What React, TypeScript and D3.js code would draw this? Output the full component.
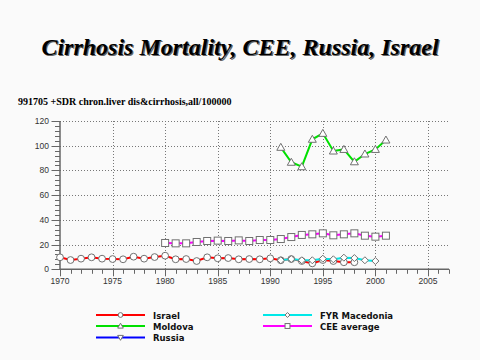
import React from "react";
import * as d3 from "d3";

const israelYears = [1970,1971,1972,1973,1974,1975,1976,1977,1978,1979,1980,1981,1982,1983,1984,1985,1986,1987,1988,1989,1990,1991,1992,1993,1994,1995,1996,1997,1998];
const israelValues = [9.7,7.5,8.6,9.7,8.6,8.3,8.1,10.2,8.6,9.9,11,8.1,8.3,6.7,9.7,8.9,9.1,8.1,8.3,8.1,8.9,7.3,8.3,6.7,4.8,7.5,6.7,5.7,5.7];
const moldovaYears = [1991,1992,1993,1994,1995,1996,1997,1998,1999,2000,2001];
const moldovaValues = [98.7,86.6,83,105.2,110,95.7,97,87,93.3,97,104.6];
const russiaYears: number[] = [];
const russiaValues: number[] = [];
const macedoniaYears = [1991,1992,1993,1994,1995,1996,1997,1998,1999,2000];
const macedoniaValues = [7.3,8.3,7.3,7.3,8.6,8.1,9.4,9.1,7.3,6.7];
const ceeYears = [1980,1981,1982,1983,1984,1985,1986,1987,1988,1989,1990,1991,1992,1993,1994,1995,1996,1997,1998,1999,2000,2001];
const ceeValues = [21.3,21,21,22.1,22.9,23.2,22.9,23.4,22.9,23.7,23.7,24.5,26.1,27.8,28.3,29.1,27.5,28.3,29.1,27.2,26.4,27.2];

const xTicks = [1970,1975,1980,1985,1990,1995,2000,2005];
const yTicks = [0,20,40,60,80,100,120];

type Series = { name: string; years: number[]; values: number[]; color: string; marker: string };
const series: Series[] = [
  { name: "Israel", years: israelYears, values: israelValues, color: "#ff0000", marker: "circle" },
  { name: "Moldova", years: moldovaYears, values: moldovaValues, color: "#00e000", marker: "triangle" },
  { name: "Russia", years: russiaYears, values: russiaValues, color: "#0000ff", marker: "triangleDown" },
  { name: "FYR Macedonia", years: macedoniaYears, values: macedoniaValues, color: "#00e8e8", marker: "diamond" },
  { name: "CEE average", years: ceeYears, values: ceeValues, color: "#ff00ff", marker: "square" },
];

function Marker({ type, x, y, k = 1 }: { type: string; x: number; y: number; k?: number }) {
  const st = { fill: "#fff", stroke: "#707070", strokeWidth: 1 };
  if (type === "circle") return <circle cx={x} cy={y} r={3.4 * k} {...st} />;
  if (type === "square") return <rect x={x - 3.5 * k} y={y - 3.5 * k} width={7 * k} height={7 * k} {...st} />;
  if (type === "triangle") return <path d={`M${x},${y - 4 * k}L${x + 4 * k},${y + 3 * k}L${x - 4 * k},${y + 3 * k}Z`} {...st} />;
  if (type === "triangleDown") return <path d={`M${x},${y + 4 * k}L${x + 4 * k},${y - 3 * k}L${x - 4 * k},${y - 3 * k}Z`} {...st} />;
  return <path d={`M${x},${y - 3.5 * k}L${x + 3.5 * k},${y}L${x},${y + 3.5 * k}L${x - 3.5 * k},${y}Z`} {...st} />;
}

export default function App() {
  const x = d3.scaleLinear().domain([1970, 2007]).range([60, 449]);
  const y = d3.scaleLinear().domain([0, 120]).range([269.3, 121]);
  const line = d3.line<[number, number]>().x(d => x(d[0])).y(d => y(d[1]));
  const minorX = d3.range(1970, 2008, 1);
  const minorY = d3.range(0, 121, 4);
  const axisColor = "#666";
  const legendPos = [
    { lx: 96, ly: 315 }, { lx: 96, ly: 326 }, { lx: 96, ly: 337.5 },
    { lx: 263, ly: 315 }, { lx: 263, ly: 326 },
  ];
  const title = "Cirrhosis Mortality, CEE, Russia, Israel";
  const serifFont = "'Liberation Serif', serif";
  return (
    <svg width={480} height={360} style={{ position: "absolute", left: 0, top: 0 }}>
      <rect x={0} y={0} width={480} height={360} fill="#fafafa" />
      <g style={{ fontFamily: serifFont, fontWeight: "bold", fontStyle: "italic", fontSize: "24px" }} textAnchor="middle">
        <text x={241.2} y={56.2} fill="#666">{title}</text>
        <text x={240} y={55} fill="#000">{title}</text>
      </g>
      <text x={18} y={105} style={{ fontFamily: serifFont, fontWeight: "bold", fontSize: "10px" }} fill="#000">991705 +SDR chron.liver dis&amp;cirrhosis,all/100000</text>
      {/* grid */}
      <g stroke="#777" strokeWidth={1} strokeDasharray="1,2">
        {yTicks.filter(t => t > 0).map(t => (
          <line key={"gy" + t} x1={60} x2={449} y1={Math.round(y(t)) + 0.5} y2={Math.round(y(t)) + 0.5} />
        ))}
        {xTicks.filter(t => t > 1970).map(t => (
          <line key={"gx" + t} x1={Math.round(x(t)) + 0.5} x2={Math.round(x(t)) + 0.5} y1={y(120)} y2={y(0)} />
        ))}
      </g>
      {/* axes */}
      <g stroke={axisColor} strokeWidth={1}>
        <line x1={60} x2={60} y1={y(120)} y2={y(0)} strokeWidth={1.5} />
        <line x1={60} x2={449} y1={y(0)} y2={y(0)} strokeWidth={1.5} />
        {minorY.map(t => (
          <line key={"my" + t} x1={t % 20 === 0 ? 51.5 : 55} x2={60} y1={Math.round(y(t)) + 0.5} y2={Math.round(y(t)) + 0.5} />
        ))}
        {minorX.map(t => (
          <line key={"mx" + t} x1={Math.round(x(t)) + 0.5} x2={Math.round(x(t)) + 0.5} y1={y(0)} y2={y(0) + (t % 5 === 0 ? 7 : 4.5)} />
        ))}
      </g>
      <g fontFamily="'Liberation Sans', Arial, sans-serif" fontSize={8.5} fill="#333">
        {yTicks.map(t => (
          <text key={"ly" + t} x={49} y={y(t) + 3} textAnchor="end">{t}</text>
        ))}
        {xTicks.map(t => (
          <text key={"lx" + t} x={x(t)} y={284} textAnchor="middle">{t}</text>
        ))}
      </g>
      {/* series */}
      {series.map(s => {
        const pts: [number, number][] = s.years.map((yr, i) => [yr, s.values[i]]);
        return (
          <g key={s.name}>
            {pts.length > 0 && <path d={line(pts) || ""} fill="none" stroke={s.color} strokeWidth={2} />}
            {pts.map((p, i) => <Marker key={i} type={s.marker} x={x(p[0])} y={y(p[1])} />)}
          </g>
        );
      })}
      {/* legend */}
      {series.map((s, i) => {
        const p = legendPos[i];
        return (
          <g key={"lg" + s.name}>
            <line x1={p.lx} x2={p.lx + 49} y1={p.ly} y2={p.ly} stroke={s.color} strokeWidth={2} />
            <Marker type={s.marker} x={p.lx + 24.5} y={p.ly} k={0.7} />
            <text x={p.lx + 57} y={p.ly + 3.5} fontFamily="'DejaVu Sans', sans-serif" fontWeight="bold" fontSize={8.5} fill="#111">{s.name}</text>
          </g>
        );
      })}
    </svg>
  );
}
